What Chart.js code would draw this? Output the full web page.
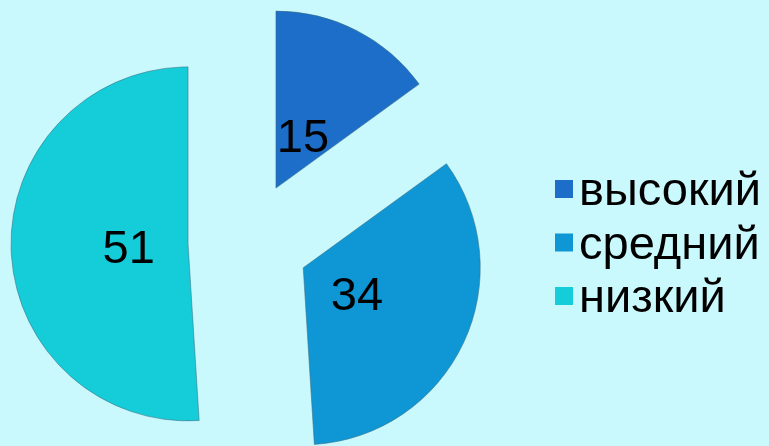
<!DOCTYPE html>
<html>
<head>
<meta charset="utf-8">
<script src="https://cdn.jsdelivr.net/npm/chart.js@4.4.1/dist/chart.umd.min.js"></script>
<style>
  html, body { margin: 0; padding: 0; background: #c9f9fc; }
  #wrap { width: 769px; height: 446px; position: relative; }
</style>
</head>
<body>
<div id="wrap"><canvas id="c" width="769" height="446"></canvas></div>
<script>
const categories = ['высокий', 'средний', 'низкий'];
const values = [15, 34, 51];
const sliceColors = ['#1c6ec8', '#0e97d4', '#14cdd9'];

const FONT = '"Liberation Sans", Arial, sans-serif';
const EXPLODE = 60.5;      // distance each slice is pulled out from the centre (px)
const LABEL_FRAC = 0.335;  // label distance from slice apex, as a fraction of the radius

// Draw each arc with the library's own ArcElement, translated outward along its mid-angle
const explodedArcs = {
  id: 'explodedArcs',
  beforeDatasetDraw(chart, args) {
    const ctx = chart.ctx;
    const meta = args.meta;
    meta.data.forEach(arc => {
      const p = arc.getProps(['startAngle', 'endAngle'], true);
      const half = (p.startAngle + p.endAngle) / 2;
      ctx.save();
      ctx.translate(Math.cos(half) * EXPLODE, Math.sin(half) * EXPLODE);
      arc.draw(ctx, chart.chartArea);
      ctx.restore();
    });
    return false;
  }
};

const sliceLabels = {
  id: 'sliceLabels',
  afterDatasetsDraw(chart) {
    const ctx = chart.ctx;
    const meta = chart.getDatasetMeta(0);
    const size = 47;
    ctx.save();
    ctx.fillStyle = '#000';
    ctx.font = size + 'px ' + FONT;
    ctx.textAlign = 'center';
    ctx.textBaseline = 'alphabetic';
    meta.data.forEach((arc, i) => {
      const p = arc.getProps(['x', 'y', 'startAngle', 'endAngle', 'outerRadius'], true);
      const half = (p.startAngle + p.endAngle) / 2;
      const d = EXPLODE + p.outerRadius * LABEL_FRAC;
      const cx = p.x + Math.cos(half) * d;
      const cy = p.y + Math.sin(half) * d;
      ctx.fillText(String(chart.data.datasets[0].data[i]), cx, cy + size * 0.36);
    });
    ctx.restore();
  }
};

const sideLegend = {
  id: 'sideLegend',
  afterDraw(chart) {
    const ctx = chart.ctx;
    const ds = chart.data.datasets[0];
    ctx.save();
    ctx.font = '47px ' + FONT;
    ctx.textAlign = 'left';
    ctx.textBaseline = 'alphabetic';
    chart.data.labels.forEach((lab, i) => {
      const base = 205 + i * 53.5;
      ctx.fillStyle = ds.backgroundColor[i];
      ctx.fillRect(555, base - 25, 18, 18);
      ctx.fillStyle = '#000';
      ctx.fillText(lab, 579, base);
    });
    ctx.restore();
  }
};

new Chart(document.getElementById('c'), {
  type: 'pie',
  data: {
    labels: categories,
    datasets: [{
      data: values,
      backgroundColor: sliceColors,
      borderColor: 'rgba(60,110,130,0.55)',
      borderWidth: 1,
      offset: 0,
      hoverOffset: 0,
      radius: 177
    }]
  },
  options: {
    responsive: false,
    animation: false,
    events: [],
    layout: { padding: { left: 0, right: 272, top: 38, bottom: 0 } },
    plugins: {
      legend: { display: false },
      tooltip: { enabled: false }
    }
  },
  plugins: [explodedArcs, sliceLabels, sideLegend]
});
</script>
</body>
</html>
